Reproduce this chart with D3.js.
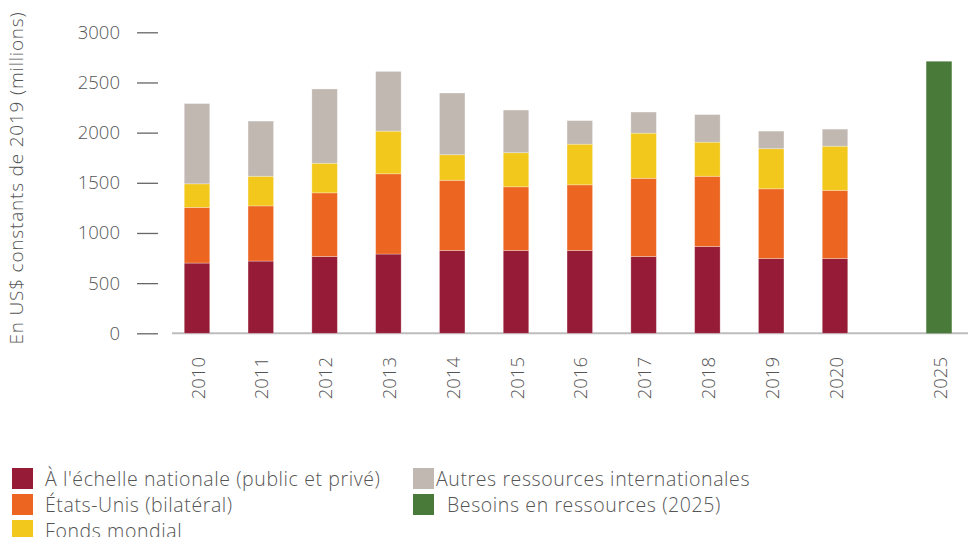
<!DOCTYPE html>
<html lang="fr">
<head>
  <meta charset="UTF-8">
  <title>Ressources</title>
  <script src="https://d3js.org/d3.v7.min.js"></script>
  <style>
    body { margin: 0; background: #fff; }
    svg text { font-family: "Open Sans", Lato, sans-serif; font-weight: 300; }
    .tick text { fill: #555; font-size: 18.5px; }
  </style>
</head>
<body>
<svg width="968" height="537"></svg>
<script>
  // data (US$ millions, constant 2019)
  const years = [2010, 2011, 2012, 2013, 2014, 2015, 2016, 2017, 2018, 2019, 2020];
  const national = [700, 720, 765, 790, 825, 825, 825, 765, 865, 745, 745];
  const usa = [555, 550, 635, 800, 700, 635, 655, 780, 700, 695, 680];
  const globalFund = [235, 295, 295, 425, 255, 340, 405, 450, 340, 400, 440];
  const others = [800, 550, 740, 595, 615, 425, 235, 210, 275, 175, 170];
  const needYear = 2025;
  const needValue = 2710;
  const yTicks = [0, 500, 1000, 1500, 2000, 2500, 3000];

  const seriesNames = ["À l'échelle nationale (public et privé)", "États-Unis (bilatéral)", "Fonds mondial", "Autres ressources internationales"];
  const needName = "Besoins en ressources (2025)";
  const colors = ["#961b36", "#ec6622", "#f2c81c", "#c1b8b2"];
  const needColor = "#4a7a3a";

  const rows = years.map((y, i) => ({year: y, s0: national[i], s1: usa[i], s2: globalFund[i], s3: others[i]}));
  const keys = ["s0", "s1", "s2", "s3"];
  const stacked = d3.stack().keys(keys)(rows);

  const svg = d3.select("svg");

  const x = d3.scaleLinear()
    .domain([2010, 2020, 2025])
    .range([197, 835, 939]);
  const barW = 25.5;

  const y = d3.scaleLinear()
    .domain([0, 3000])
    .range([333.3, 32.3]);

  // baseline
  svg.append("line")
    .attr("x1", 172).attr("x2", 968)
    .attr("y1", y(0)).attr("y2", y(0))
    .attr("stroke", "#bdbdbd").attr("stroke-width", 2);

  // stacked bars
  stacked.forEach((layer, k) => {
    svg.append("g").selectAll("rect")
      .data(layer)
      .join("rect")
      .attr("x", d => x(d.data.year) - barW / 2)
      .attr("width", barW)
      .attr("y", d => y(d[1]))
      .attr("height", d => y(d[0]) - y(d[1]))
      .attr("fill", colors[k])
      .attr("stroke", "rgba(255,255,255,0.35)")
      .attr("stroke-width", 0.8);
  });

  // need bar
  svg.append("rect")
    .attr("x", x(needYear) - barW / 2)
    .attr("width", barW)
    .attr("y", y(needValue))
    .attr("height", y(0) - y(needValue))
    .attr("fill", needColor);

  // y axis
  const yAxis = svg.append("g")
    .attr("transform", "translate(158,0)")
    .call(d3.axisLeft(y).tickValues(yTicks).tickSize(21).tickPadding(17).tickFormat(d3.format("d")))
    .attr("font-family", null)
    .attr("font-size", null);
  yAxis.select(".domain").remove();
  yAxis.selectAll(".tick line").attr("stroke", "#666").attr("stroke-width", 1.3);

  svg.append("text")
    .attr("transform", "translate(16,178) rotate(-90)")
    .attr("text-anchor", "middle")
    .attr("dominant-baseline", "central")
    .attr("fill", "#555")
    .style("font-size", "19px")
    .style("letter-spacing", "0.8px")
    .text("En US$ constants de 2019 (millions)");

  // x labels
  svg.append("g").selectAll("text")
    .data(years.concat([needYear]))
    .join("text")
    .attr("transform", d => `translate(${x(d)},357) rotate(-90)`)
    .attr("text-anchor", "end")
    .attr("dominant-baseline", "central")
    .attr("fill", "#555")
    .style("font-size", "18.5px")
    .text(d => d);

  // legend
  const legend = [
    {name: seriesNames[0], color: colors[0], sx: 12, tx: 45, row: 0},
    {name: seriesNames[1], color: colors[1], sx: 12, tx: 45, row: 1},
    {name: seriesNames[2], color: colors[2], sx: 12, tx: 45, row: 2},
    {name: seriesNames[3], color: colors[3], sx: 413, tx: 436, row: 0},
    {name: needName, color: needColor, sx: 413, tx: 447, row: 1}
  ];
  const lg = svg.append("g").selectAll("g").data(legend).join("g")
    .attr("transform", d => `translate(0,${468 + d.row * 26})`);
  lg.append("rect")
    .attr("x", d => d.sx).attr("y", 0)
    .attr("width", 21).attr("height", 21)
    .attr("fill", d => d.color);
  lg.append("text")
    .attr("x", d => d.tx).attr("y", 10.5)
    .attr("dominant-baseline", "central")
    .attr("fill", "#555")
    .style("font-size", "19.5px")
    .style("letter-spacing", "0.6px")
    .text(d => d.name);
</script>
</body>
</html>
